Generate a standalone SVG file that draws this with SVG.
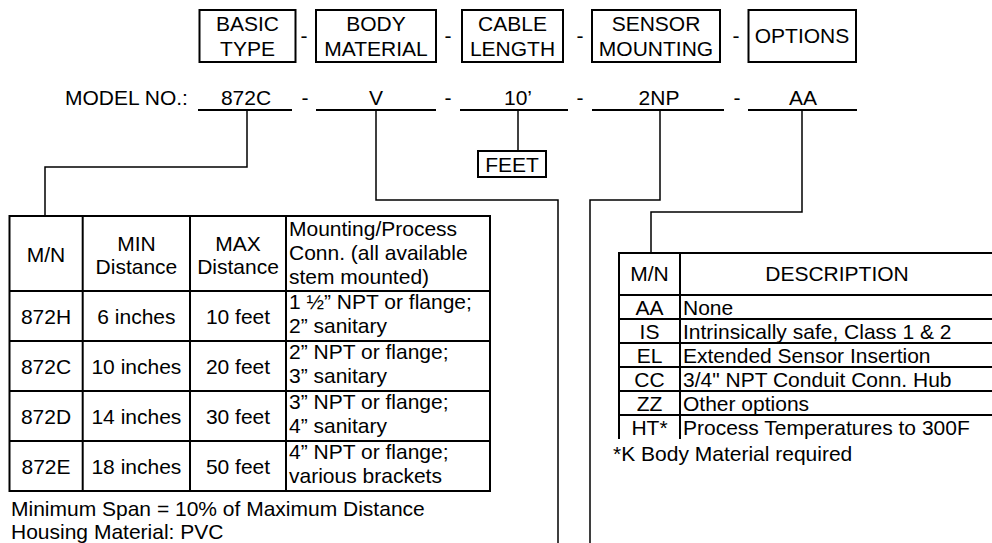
<svg xmlns="http://www.w3.org/2000/svg" width="992" height="543" viewBox="0 0 992 543">
<defs>
<style>
text{font-family:"Liberation Sans",Arial,sans-serif;font-size:21px;fill:#000}
.c{text-anchor:middle}
.box{fill:#fff;stroke:#000;stroke-width:2}
.ul{stroke:#000;stroke-width:2;fill:none}
.cn{stroke:#000;stroke-width:1.5;fill:none}
.tb{stroke:#000;stroke-width:2;fill:none}
</style>
<clipPath id="optclip"><rect x="600" y="240" width="400" height="199"/></clipPath>
</defs>
<rect width="992" height="543" fill="#fff"/>

<g id="hdr-basic"><rect class="box" x="199.5" y="10" width="96" height="52"/><text class="c" x="247.5" y="31">BASIC</text><text class="c" x="247.5" y="56">TYPE</text></g>
<text class="c" x="304" y="43">-</text>
<g id="hdr-body"><rect class="box" x="316" y="10" width="120" height="52"/><text class="c" x="376" y="31">BODY</text><text class="c" x="376" y="56">MATERIAL</text></g>
<text class="c" x="448" y="43">-</text>
<g id="hdr-cable"><rect class="box" x="462" y="10" width="101" height="52"/><text class="c" x="512.5" y="31">CABLE</text><text class="c" x="512.5" y="56">LENGTH</text></g>
<text class="c" x="580" y="43">-</text>
<g id="hdr-sensor"><rect class="box" x="592" y="10" width="128" height="52"/><text class="c" x="656" y="31">SENSOR</text><text class="c" x="656" y="56">MOUNTING</text></g>
<text class="c" x="736" y="43">-</text>
<g id="hdr-options"><rect class="box" x="748.5" y="10" width="107.5" height="52"/><text class="c" x="802" y="43">OPTIONS</text></g>

<g id="model">
<text x="65" y="105">MODEL NO.:</text>
<line class="ul" x1="198" y1="110" x2="292" y2="110"/><text class="c" x="246" y="105">872C</text>
<text class="c" x="305" y="105">-</text>
<line class="ul" x1="316" y1="110" x2="436" y2="110"/><text class="c" x="376" y="105">V</text>
<text class="c" x="448" y="105">-</text>
<line class="ul" x1="460" y1="110" x2="568" y2="110"/><text class="c" x="518" y="105">10’</text>
<text class="c" x="580" y="105">-</text>
<line class="ul" x1="592" y1="110" x2="724" y2="110"/><text class="c" x="659" y="105">2NP</text>
<text class="c" x="737" y="105">-</text>
<line class="ul" x1="748" y1="110" x2="857" y2="110"/><text class="c" x="803" y="105">AA</text>
</g>

<g id="feet"><rect class="box" x="478" y="151" width="68" height="26"/><text class="c" x="512" y="172">FEET</text></g>

<g id="connectors">
<polyline class="cn" points="247,110 247,167 45,167 45,216"/>
<polyline class="cn" points="376,110 376,200 558,200 558,543"/>
<polyline class="cn" points="518,110 518,151"/>
<polyline class="cn" points="660,110 660,200 590,200 590,543"/>
<polyline class="cn" points="802,110 802,212 651,212 651,253"/>
</g>

<g id="basic-table">
<rect class="tb" x="9.5" y="216" width="480.5" height="275"/>
<line class="tb" x1="82.7" y1="216" x2="82.7" y2="491"/>
<line class="tb" x1="190" y1="216" x2="190" y2="491"/>
<line class="tb" x1="286" y1="216" x2="286" y2="491"/>
<line class="tb" x1="9.5" y1="291" x2="490" y2="291"/>
<line class="tb" x1="9.5" y1="341" x2="490" y2="341"/>
<line class="tb" x1="9.5" y1="391" x2="490" y2="391"/>
<line class="tb" x1="9.5" y1="441" x2="490" y2="441"/>
<text class="c" x="46" y="262">M/N</text>
<text class="c" x="136.4" y="251">MIN</text><text class="c" x="136.4" y="274">Distance</text>
<text class="c" x="238" y="251">MAX</text><text class="c" x="238" y="274">Distance</text>
<text x="289" y="236">Mounting/Process</text><text x="289" y="260">Conn. (all available</text><text x="289" y="284">stem mounted)</text>
<text class="c" x="46" y="324">872H</text><text class="c" x="136.4" y="324">6 inches</text><text class="c" x="238" y="324">10 feet</text>
<text x="289" y="309">1 ½” NPT or flange;</text><text x="289" y="333">2” sanitary</text>
<text class="c" x="46" y="374">872C</text><text class="c" x="136.4" y="374">10 inches</text><text class="c" x="238" y="374">20 feet</text>
<text x="289" y="359">2” NPT or flange;</text><text x="289" y="383">3” sanitary</text>
<text class="c" x="46" y="424">872D</text><text class="c" x="136.4" y="424">14 inches</text><text class="c" x="238" y="424">30 feet</text>
<text x="289" y="409">3” NPT or flange;</text><text x="289" y="433">4” sanitary</text>
<text class="c" x="46" y="474">872E</text><text class="c" x="136.4" y="474">18 inches</text><text class="c" x="238" y="474">50 feet</text>
<text x="289" y="459">4” NPT or flange;</text><text x="289" y="483">various brackets</text>
<text x="11" y="516">Minimum Span = 10% of Maximum Distance</text>
<text x="11" y="539">Housing Material: PVC</text>
</g>

<g id="options-table">
<g clip-path="url(#optclip)">
<line class="tb" x1="619" y1="253" x2="619" y2="439"/>
<line class="tb" x1="680" y1="253" x2="680" y2="439"/>
<line class="tb" x1="618" y1="253" x2="992" y2="253"/>
<line class="tb" x1="619" y1="295" x2="992" y2="295"/>
<line class="tb" x1="619" y1="319" x2="992" y2="319"/>
<line class="tb" x1="619" y1="343" x2="992" y2="343"/>
<line class="tb" x1="619" y1="367" x2="992" y2="367"/>
<line class="tb" x1="619" y1="391" x2="992" y2="391"/>
<line class="tb" x1="619" y1="415" x2="992" y2="415"/>
<text class="c" x="649.5" y="281">M/N</text><text class="c" x="837" y="281">DESCRIPTION</text>
<text class="c" x="649.5" y="315">AA</text><text x="683" y="315">None</text>
<text class="c" x="649.5" y="339">IS</text><text x="683" y="339">Intrinsically safe, Class 1 &amp; 2</text>
<text class="c" x="649.5" y="363">EL</text><text x="683" y="363">Extended Sensor Insertion</text>
<text class="c" x="649.5" y="387">CC</text><text x="683" y="387">3/4" NPT Conduit Conn. Hub</text>
<text class="c" x="649.5" y="411">ZZ</text><text x="683" y="411">Other options</text>
<text class="c" x="649.5" y="435">HT*</text><text x="683" y="435">Process Temperatures to 300F</text>
</g>
<text x="613" y="461">*K Body Material required</text>
</g>
</svg>
